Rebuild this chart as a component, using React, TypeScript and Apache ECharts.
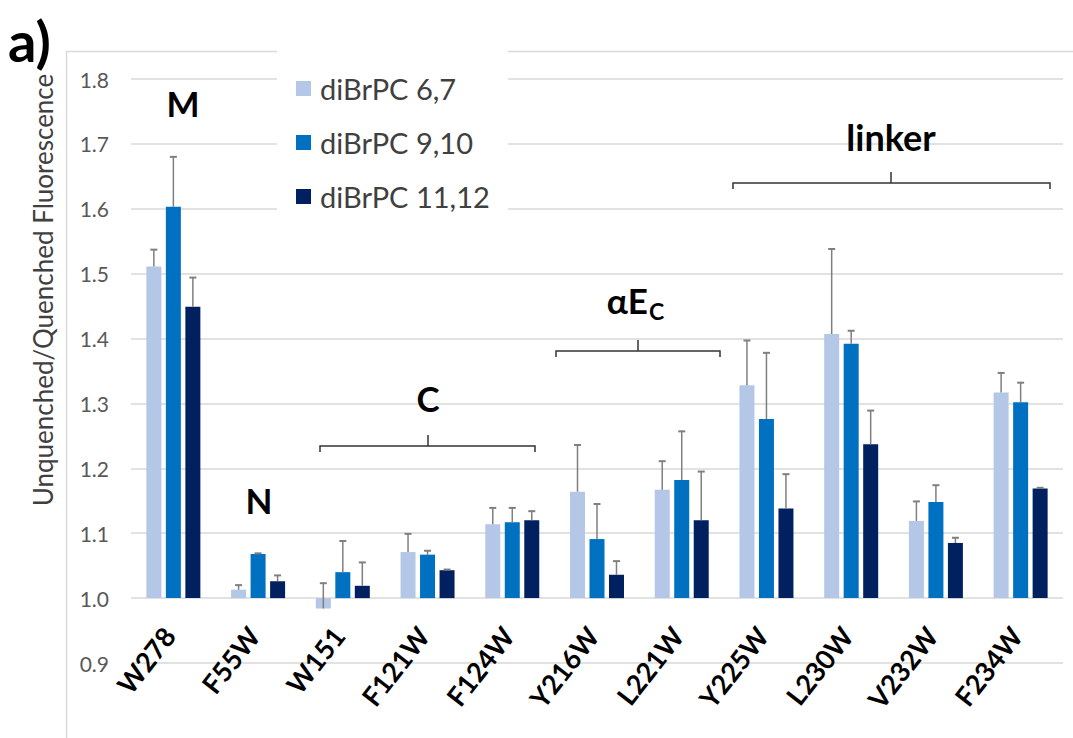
import React, { useEffect, useRef } from "react";
import * as echarts from "echarts";

const categories = ["W278", "F55W", "W151", "F121W", "F124W", "Y216W", "L221W", "Y225W", "L230W", "V232W", "F234W"];
const seriesNames = ["diBrPC 6,7", "diBrPC 9,10", "diBrPC 11,12"];
const seriesColors = ["#b4c7e7", "#0070c0", "#002060"];

const values67 = [1.511, 1.013, 0.984, 1.071, 1.114, 1.164, 1.167, 1.328, 1.407, 1.119, 1.317];
const values910 = [1.603, 1.068, 1.040, 1.067, 1.117, 1.091, 1.182, 1.276, 1.392, 1.148, 1.302];
const values1112 = [1.449, 1.026, 1.019, 1.043, 1.120, 1.036, 1.120, 1.138, 1.237, 1.085, 1.169];

const err67 = [0.026, 0.007, 0.039, 0.028, 0.025, 0.072, 0.044, 0.069, 0.131, 0.030, 0.030];
const err910 = [0.077, 0.001, 0.048, 0.006, 0.022, 0.054, 0.075, 0.102, 0.020, 0.026, 0.030];
const err1112 = [0.045, 0.009, 0.036, 0.001, 0.014, 0.021, 0.075, 0.053, 0.052, 0.008, 0.001];

const yTicks = { min: 0.9, max: 1.8, interval: 0.1 };
const baseline = 1.0;

const FONT = "Lato";

export default function App() {
  const ref = useRef<HTMLDivElement>(null);

  useEffect(() => {
    if (!ref.current) return;
    const chart = echarts.init(ref.current, undefined, { renderer: "svg" });

    const allValues = [values67, values910, values1112];
    const allErr = [err67, err910, err1112];
    const barWidth = 15;
    const gapRatio = 0.3;
    const step = barWidth * (1 + gapRatio);

    const series: any[] = [];
    allValues.forEach((vals, i) => {
      series.push({
        name: "base" + i,
        type: "bar",
        stack: "s" + i,
        stackStrategy: "all",
        barWidth,
        barGap: gapRatio * 100 + "%",
        itemStyle: { color: "rgba(0,0,0,0)" },
        silent: true,
        data: vals.map(() => baseline),
      });
      series.push({
        name: seriesNames[i],
        type: "bar",
        stack: "s" + i,
        stackStrategy: "all",
        barWidth,
        barGap: gapRatio * 100 + "%",
        itemStyle: { color: seriesColors[i] },
        data: vals.map((v) => +(v - baseline).toFixed(4)),
      });
    });
    allValues.forEach((vals, i) => {
      const off = (i - 1) * step;
      series.push({
        name: "err" + i,
        type: "custom",
        z: 5,
        clip: false,
        data: vals.map((v, k) => [k, v + allErr[i][k], v]),
        renderItem: (params: any, api: any) => {
          const c = api.value(0);
          const t = api.value(1);
          const v = api.value(2);
          const p0 = api.coord([c, v]);
          const p1 = api.coord([c, t]);
          const x = p0[0] + off;
          return {
            type: "group",
            children: [
              { type: "line", shape: { x1: x, y1: p0[1], x2: x, y2: p1[1] }, style: { stroke: "#7f7f7f", lineWidth: 1.5 } },
              { type: "line", shape: { x1: x - 3.5, y1: p1[1], x2: x + 3.5, y2: p1[1] }, style: { stroke: "#7f7f7f", lineWidth: 2 } },
            ],
          };
        },
      });
    });

    const lineStyle = { stroke: "#333333", lineWidth: 1.5, fill: "none" };
    const bracket = (x1: number, x2: number, xc: number, y: number) => [
      { type: "polyline", z: 100, shape: { points: [[x1, y + 6], [x1, y], [x2, y], [x2, y + 6]] }, style: lineStyle },
      { type: "line", z: 100, shape: { x1: xc, y1: y, x2: xc, y2: y - 11 }, style: { stroke: "#333333", lineWidth: 1.5 } },
    ];
    const label = (text: string, x: number, y: number, size = 35) => ({
      type: "text",
      z: 100,
      x,
      y,
      style: { text, fontFamily: FONT, fontWeight: "bold", fontSize: size, fill: "#000", align: "center", verticalAlign: "middle" },
    });

    const option: any = {
      animation: false,
      backgroundColor: "#ffffff",
      textStyle: { fontFamily: FONT },
      grid: { left: 131, right: 10, top: 79, bottom: 75, containLabel: false },
      legend: {
        data: seriesNames,
        orient: "vertical",
        left: 291,
        top: 69,
        icon: "rect",
        itemWidth: 15,
        itemHeight: 15,
        itemGap: 25,
        z: 60,
        textStyle: { fontFamily: FONT, fontSize: 29, color: "#404040", padding: [0, 0, 0, 4] },
      },
      xAxis: {
        type: "category",
        data: categories,
        axisLine: { show: false },
        axisTick: { show: false },
        axisLabel: {
          interval: 0,
          rotate: 52,
          margin: -38,
          padding: [0, 7, 0, 0],
          fontFamily: FONT,
          fontWeight: "bold",
          fontSize: 27,
          color: "#000",
        },
      },
      yAxis: {
        type: "value",
        min: yTicks.min,
        max: yTicks.max,
        interval: yTicks.interval,
        axisLine: { show: false },
        axisTick: { show: false },
        splitLine: { lineStyle: { color: "#d9d9d9", width: 1.5 } },
        axisLabel: {
          margin: 22,
          fontFamily: FONT,
          fontSize: 21,
          color: "#595959",
          formatter: (v: number) => v.toFixed(1),
        },
      },
      graphic: [
        { type: "line", z: 1, shape: { x1: 66.5, y1: 51, x2: 66.5, y2: 738 }, style: { stroke: "#d9d9d9", lineWidth: 1.5 } },
        { type: "line", z: 1, shape: { x1: 66, y1: 51.5, x2: 1073, y2: 51.5 }, style: { stroke: "#d9d9d9", lineWidth: 1.5 } },
        { type: "rect", z: 50, shape: { x: 277, y: 40, width: 231, height: 182 }, style: { fill: "#ffffff" } },
        {
          type: "text",
          z: 100,
          x: 8,
          y: 40,
          style: { text: "a)", fontFamily: FONT, fontWeight: "bold", fontSize: 56, fill: "#000", align: "left", verticalAlign: "middle" },
        },
        {
          type: "text",
          z: 100,
          x: 43,
          y: 290,
          rotation: Math.PI / 2,
          style: { text: "Unquenched/Quenched Fluorescence", fontFamily: FONT, fontSize: 26, fill: "#404040", align: "center", verticalAlign: "middle" },
        },
        label("M", 183, 103),
        label("N", 259, 500),
        label("C", 428, 398),
        label("linker", 891, 137, 36),
        {
          type: "text",
          z: 100,
          x: 648,
          y: 300,
          style: { text: "αE", fontFamily: FONT, fontWeight: "bold", fontSize: 35, fill: "#000", align: "right", verticalAlign: "middle" },
        },
        {
          type: "text",
          z: 100,
          x: 649,
          y: 311,
          style: { text: "C", fontFamily: FONT, fontWeight: "bold", fontSize: 23, fill: "#000", align: "left", verticalAlign: "middle" },
        },
        ...bracket(320, 535, 428, 446),
        ...bracket(556, 720, 638, 351),
        ...bracket(733, 1050, 891, 183),
      ],
      series,
    };

    chart.setOption(option);
    return () => chart.dispose();
  }, []);

  return (
    <div
      ref={ref}
      style={{ position: "absolute", left: 0, top: 0, width: 1073, height: 738, background: "#fff" }}
    />
  );
}
